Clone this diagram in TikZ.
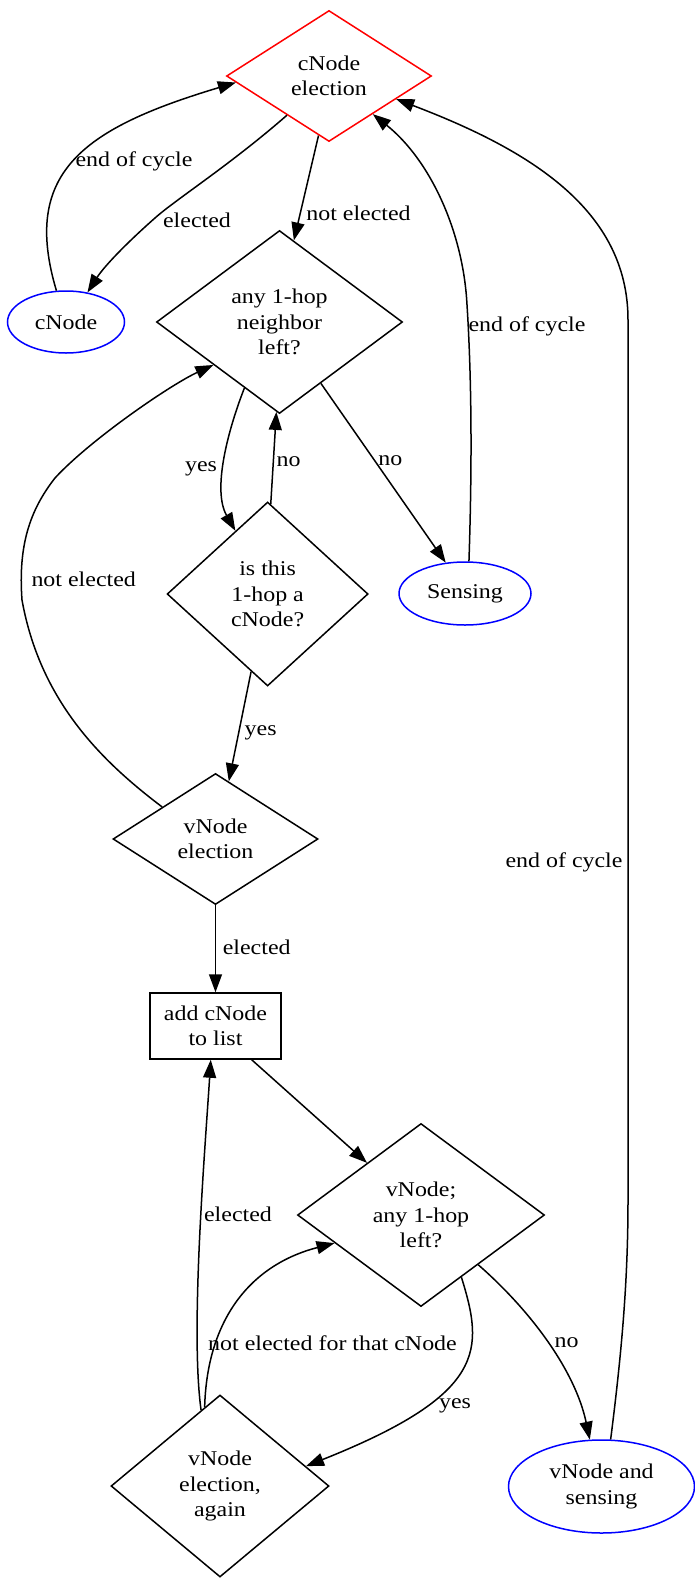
\documentclass[tikz,border=0pt]{standalone}
\usepackage{fontspec}
\setmainfont{Liberation Serif}[FakeStretch=1.14]
\usetikzlibrary{shapes.geometric,arrows.meta}
\begin{document}
\begin{tikzpicture}[x=1pt,y=-1pt,line width=1.5pt,
  every node/.style={font=\fontsize{21}{25.5}\selectfont,align=center,inner sep=0pt},
  dmd/.style={shape=diamond,draw},
  oval/.style={shape=ellipse,draw=blue},
  box/.style={rectangle,draw},
  lbl/.style={anchor=base},
  edge/.style={-{Triangle[length=18pt,width=13pt]}}]
\useasboundingbox (0,0) rectangle (695,1579);

% nodes
\node[dmd,draw=red,minimum width=205pt,minimum height=131pt] (A) at (329,76) {cNode\\election};
\node[oval,minimum width=117pt,minimum height=62pt] (B) at (66,322) {cNode};
\node[dmd,minimum width=246pt,minimum height=183pt] (C) at (279.5,322) {any 1-hop\\neighbor\\left?};
\node[dmd,minimum width=201pt,minimum height=184pt] (D) at (267.6,594) {is this\\1-hop a\\cNode?};
\node[oval,minimum width=132pt,minimum height=63pt] (E) at (465,593.5) {Sensing};
\node[dmd,minimum width=205pt,minimum height=131pt] (F) at (215.5,839) {vNode\\election};
\node[box,minimum width=131pt,minimum height=66pt] (G) at (215.5,1026) {add cNode\\to list};
\node[dmd,minimum width=247pt,minimum height=183pt] (H) at (421,1215) {vNode;\\any 1-hop\\left?};
\node[dmd,minimum width=218pt,minimum height=182pt] (I) at (220,1486) {vNode\\election,\\again};
\node[oval,minimum width=186pt,minimum height=93pt] (J) at (601.5,1486.5) {vNode and\\sensing};

% edges
\draw[edge] (A.-137) .. controls (230,165) and (175,200) .. (155,218)
  .. controls (130,240) and (105,265) .. (B.54);
\draw[edge] (B.107) .. controls (21.5,173.6) and (81.2,128.8) .. (A.184);
\draw[edge] (A.-100) -- (C.80);
\draw[edge] (C.-118) .. controls (228,430) and (212,490) .. (D.117);
\draw[edge] (D.88) -- (C.-92);
\draw[edge] (C.-56) -- (E.122);
\draw[edge] (E.83) .. controls (472,470) and (472,380) .. (466.7,300)
  .. controls (462,230) and (430,160) .. (A.-41);
\draw[edge] (D.-102) -- (F.77);
\draw[edge] (F.149) .. controls (100,760) and (40,700) .. (22,600)
  .. controls (18,545) and (30,510) .. (55,478)
  .. controls (90,440) and (170,385) .. (C.-147);
\draw[edge] (F.south) -- (G.north);
\draw[edge] (G.-43) -- (H.136);
\draw[edge] (H.-57) .. controls (484,1350) and (487,1394) .. (I.13);
\draw[edge] (H.-41) .. controls (530,1310) and (575,1370) .. (J.104);
\draw[edge] (I.104) .. controls (190,1330) and (205,1150) .. (G.-98);
\draw[edge] (I.101) .. controls (207,1320) and (250,1265) .. (H.-162);
\draw[edge] (J.79) .. controls (622,1350) and (628,1280) .. (628,1200)
  -- (628,320) .. controls (628,210) and (530,150) .. (A.-19);

% labels
\node[lbl] (l1) at (197,227) {elected};
\node[lbl] (l2) at (134,166) {end of cycle};
\node[lbl] (l3) at (358.5,220) {not elected};
\node[lbl] (l4) at (201,471) {yes};
\node[lbl] (l5) at (288.7,466.7) {no};
\node[lbl] (l6) at (390.4,465) {no};
\node[lbl] (l7) at (527,331.7) {end of cycle};
\node[lbl] (l8) at (260.7,735) {yes};
\node[lbl] (l9) at (83.7,586.7) {not elected};
\node[lbl] (l10) at (564,867) {end of cycle};
\node[lbl] (l11) at (256.7,954) {elected};
\node[lbl] (l12) at (238,1221) {elected};
\node[lbl] (l13) at (332.5,1350) {not elected for that cNode};
\node[lbl] (l14) at (455,1408) {yes};
\node[lbl] (l15) at (566.7,1347) {no};
\end{tikzpicture}
\end{document}
